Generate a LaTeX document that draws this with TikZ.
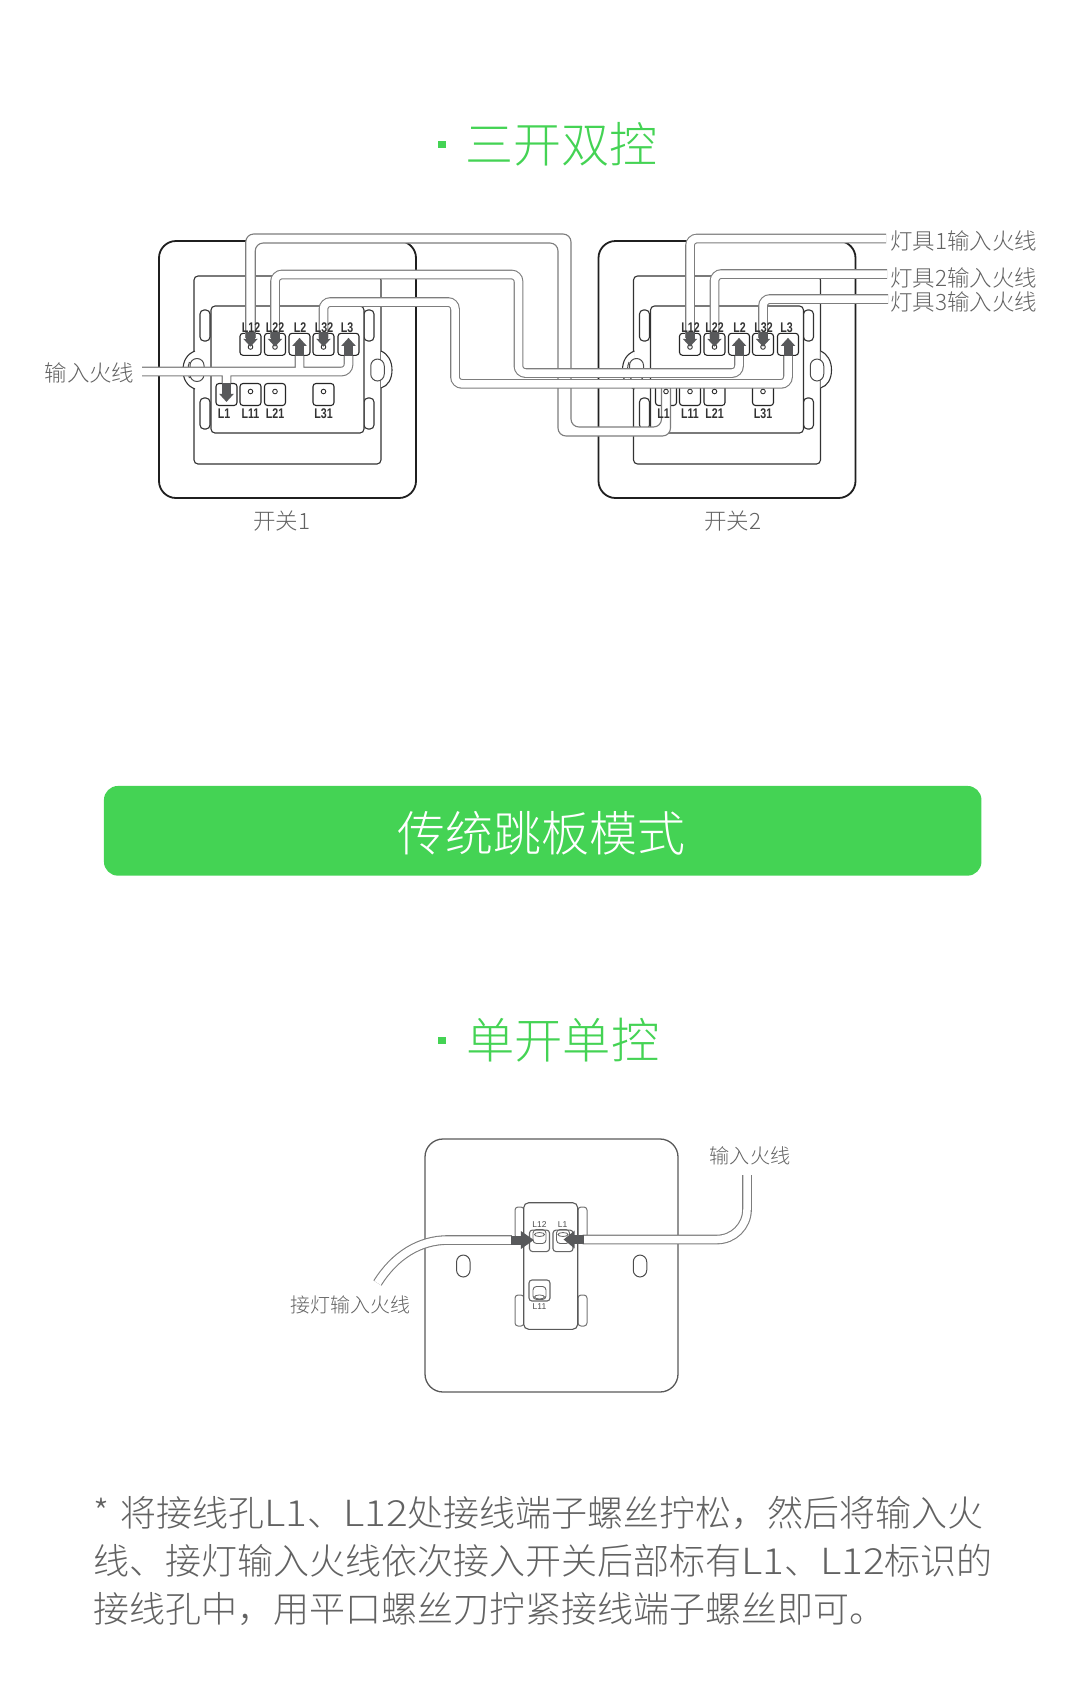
\documentclass[tikz,border=0pt]{standalone}
\usepackage{fontspec}
\setmainfont{Noto Sans CJK SC Light}
\newfontfamily\termfont{Liberation Sans}
\usetikzlibrary{arrows.meta}
\usetikzlibrary{positioning}
\definecolor{btngreen}{RGB}{68,211,84}
\definecolor{txtgray}{RGB}{98,98,98}
\definecolor{wiregray}{RGB}{125,125,125}
\definecolor{tipgray}{RGB}{88,89,91}
\newcommand{\pxfont}[1]{\fontsize{#1}{#1}\selectfont}
\newcommand{\termtxt}[1]{\scalebox{0.76}[1]{\termfont\bfseries\fontsize{14}{14}\selectfont #1}}
\newcommand{\latinpart}[1]{\scalebox{1.13}[1]{#1}}
\tikzset{
  plate/.style={draw=black!88, line width=1.8pt, fill=white, rounded corners=17pt},
  frameline/.style={draw=black!80, line width=1.1pt, fill=white, rounded corners=4pt},
  term/.style={draw=black!85, line width=1.1pt, fill=white, rounded corners=3pt, minimum width=21pt, minimum height=22pt, inner sep=0},
  hole/.style={circle, draw=black!80, line width=0.9pt, fill=white, minimum size=4.6pt, inner sep=0},
  slot/.style={draw=black!70, line width=1pt, fill=white, rounded corners=6.9pt, inner sep=0},
  wire/.style={draw=wiregray, line width=1.1pt, double=white, double distance=7.5pt, rounded corners=7pt},
  wireedge/.style={draw=wiregray, line width=1.1pt, rounded corners=8pt},
  pointer/.style={draw=tipgray, line width=9pt, -{Triangle[length=8pt,width=14pt]}},
  lbl/.style={font=\pxfont{22.5}, text=txtgray, inner sep=0},
  smallplate/.style={draw=black!65, line width=1.3pt, rounded corners=#1},
  smalllbl/.style={font=\termfont\pxfont{8.5}, text=black!70, inner sep=0},
  heading/.style={font=\pxfont{48}, text=btngreen, inner sep=0, anchor=west},
  headdot/.style={fill=btngreen, minimum size=7.6pt, inner sep=0},
}
\begin{document}
\begin{tikzpicture}[x=1pt,y=-1pt]
  \useasboundingbox (0,0) rectangle (1080,1701);

  % top heading
  \node [headdot] (dot1) at (442,144.5) {};
  \node [heading] (head1) at (465,144) {三开双控};

  % both switches
  \foreach \sw/\dx in {a/0,b/439.5} {
    \begin{scope}[xshift=\dx pt]
      \draw [plate] (159,241) rectangle (416,498);
      \draw [frameline] (194,276) rectangle (381,464);
      \draw [frameline, rounded corners=0pt] (195,351) .. controls (187,354) and (183,361) .. (183,370) .. controls (183,379) and (187,386) .. (195,389);
      \draw [frameline, rounded corners=0pt] (381,351) .. controls (388,354) and (392,361) .. (392,370) .. controls (392,379) and (388,386) .. (381,388);
      \node [slot, minimum width=14pt, minimum height=23pt] (\sw holeleft) at (197,370) {};
      \node [slot, minimum width=13.5pt, minimum height=22pt] (\sw holeright) at (377.5,370) {};
      \draw [draw=black!70, line width=1pt] (189.5,362) .. controls (187.5,366) and (187.5,374) .. (189.5,378);
      \foreach \tx in {200,364} {
        \foreach \ty in {310,398} {
          \draw [frameline] (\tx,\ty) rectangle ++(10,31);
        }
      }
      \draw [frameline] (211,306) rectangle (364,433);
      \foreach \name/\tx/\ty in {L12/250.5/344.3,L22/275/344.3,L2/299.5/344.3,L32/323.5/344.3,L3/348.5/344.3,L1/226.5/394.5,L11/250.5/394.5,L21/275/394.5,L31/323.5/394.5} {
        \node [term] (\sw\name) at (\tx,\ty) {};
      }
    \end{scope}
  }

  % wire from switch 1 to L1 of switch 2
  \fill [white, rounded corners=8pt] ([xshift=-4.75pt,yshift=-5pt]aL12.north) |- (571,234) -- (571,427) -| ([xshift=-4.5pt]bL1.north) -- ([xshift=4.5pt]bL1.north) |- (558,436) -- (558,243) -| ([xshift=4.75pt,yshift=-5pt]aL12.north) -- cycle;
  \draw [wireedge] ([xshift=-4.75pt,yshift=-5pt]aL12.north) |- (571,234) -- (571,427) -| ([xshift=-4.5pt]bL1.north);
  \draw [wireedge] ([xshift=4.75pt,yshift=-5pt]aL12.north) |- (558,243) -- (558,436) -| ([xshift=4.5pt]bL1.north);

  \draw [wire] ([yshift=-5pt]aL22.north) |- (518.5,274.5) |- ([yshift=-17.2pt]bL2.south) -- (bL2.south);
  \draw [wire] ([yshift=-5pt]aL32.north) |- (455,302) |- ([yshift=-28pt]bL3.south) -- (bL3.south);

  % lamp wires
  \coordinate (lamp1) at (886,238.5);
  \coordinate (lamp2) at (887,274);
  \coordinate (lamp3) at (888,299);
  \draw [wire] (lamp1) -| ([yshift=-5pt]bL12.north);
  \draw [wire] (lamp2) -| ([yshift=-5pt]bL22.north);
  \draw [wire] (lamp3) -| ([yshift=-5pt]bL32.north);

  % input wire of switch 1
  \coordinate (feed) at (142,371.5);
  \draw [wire] (feed) -| (aL3.south) (aL2.south |- feed) -- (aL2.south) (aL1.north |- feed) -- (aL1.north);

  \foreach \sw in {a,b} {
    \foreach \name/\hy in {L12/347,L22/347,L2/347,L32/347,L3/347,L1/391.5,L11/391.5,L21/391.5,L31/391.5} {
      \node [hole] (\sw\name hole) at (\sw\name.center |- 0,\hy) {};
    }
  }

  % arrows into the terminals
  \foreach \term in {aL12,aL22,aL32,bL12,bL22,bL32} {
    \draw [pointer] ([yshift=1pt]\term.north) -- ([yshift=-14pt]\term.north);
  }
  \foreach \term in {aL2,aL3,bL2,bL3} {
    \draw [pointer] (\term.south) -- ([yshift=18pt]\term.south);
  }
  \draw [pointer] (aL1.north) -- ([yshift=-19pt]aL1.north);

  % terminal names
  \foreach \sw/\dx in {a/0,b/439.5} {
    \begin{scope}[xshift=\dx pt]
      \foreach \name/\tx/\ty in {L12/251/328,L22/275/328,L2/300/328,L32/324/328,L3/347/328,L1/224/414,L11/250.5/414,L21/275/414,L31/323.5/414} {
        \node [inner sep=0, text=black!80] (\sw\name txt) at (\tx,\ty) {\termtxt{\name}};
      }
    \end{scope}
  }

  \node [lbl] (feedtxt) at (89.5,373) {输入火线};
  \node [lbl, anchor=west] (lamptxt1) at (890,241) {灯具1输入火线};
  \node [lbl, anchor=west] (lamptxt2) at (890,277.5) {灯具2输入火线};
  \node [lbl, anchor=west] (lamptxt3) at (890,302) {灯具3输入火线};
  \node [lbl] (swtxt1) at (282,521.5) {开关1};
  \node [lbl] (swtxt2) at (733,521.5) {开关2};

  % green banner
  \node [fill=btngreen, rounded corners=14pt, minimum width=877.5pt, minimum height=89.7pt, inner sep=0] (banner) at (542.7,830.8) {};
  \node [font=\pxfont{48}, text=white, inner sep=0] (bannertxt) at (541,833) {传统跳板模式};

  \node [headdot] (dot2) at (442,1040.5) {};
  \node [heading, font=\pxfont{48.3}] (head2) at (466,1040) {单开单控};

  % single switch
  \draw [smallplate=18pt] (425,1139) rectangle (678,1392);
  \node [slot, minimum width=13.5pt, minimum height=22pt] (sholeleft) at (463.3,1266) {};
  \node [slot, minimum width=13.5pt, minimum height=22pt] (sholeright) at (640,1266) {};
  \foreach \tx in {515,578} {
    \foreach \ty in {1207,1295} {
      \draw [draw=black!55, line width=1pt, rounded corners=3pt] (\tx,\ty) rectangle ++(9,31);
    }
  }
  \draw [draw=black!65, line width=1.1pt, fill=white, rounded corners=5pt] (523.7,1202.7) rectangle (577.7,1329.3);
  \node [term, draw=black!60, minimum width=20pt, minimum height=21.5pt] (sL12) at (539.5,1240.8) {};
  \node [term, draw=black!60, minimum width=20pt, minimum height=21.5pt] (sL1) at (563,1240.8) {};
  \node [term, draw=black!60, minimum width=21pt, minimum height=21pt] (sL11) at (539.5,1290.5) {};
  \foreach \term in {sL12,sL1} {
    \draw [draw=black!60, line width=0.9pt, rounded corners=3.5pt] ([xshift=-6.5pt]\term.north) rectangle ([xshift=6.5pt,yshift=-14pt]\term.north);
    \draw [draw=black!60, line width=0.8pt] ([yshift=-5pt]\term.north) ellipse (5pt and 2pt);
  }
  \draw [draw=black!60, line width=0.9pt, rounded corners=3.5pt] ([xshift=-6.5pt,yshift=-7pt]sL11.north) rectangle ([xshift=6.5pt,yshift=-20pt]sL11.north);
  \draw [draw=black!60, line width=0.8pt] ([yshift=-17.5pt]sL11.north) ellipse (5pt and 2pt);

  \coordinate (lampend) at (377.5,1283);
  \coordinate (feedend) at (747,1175);
  \draw [wire] (lampend) .. controls (395,1255) and (420,1240) .. (455,1240) -- ([xshift=-17pt]sL12.west |- 0,1240);
  \draw [wire, rounded corners=30pt] (feedend) |- ([xshift=9pt]sL1.east |- 0,1239.5);
  \draw [pointer, -{Triangle[length=13pt,width=17pt]}] ([xshift=-18pt]sL12.west |- 0,1240) -- ([xshift=5pt]sL12.west |- 0,1240);
  \draw [pointer, line width=8.5pt, -{Triangle[length=11pt,width=17pt]}] ([xshift=10pt]sL1.east |- 0,1239.5) -- ([xshift=-10pt]sL1.east |- 0,1239.5);

  \node [smalllbl] (sL12txt) at (539.5,1225) {L12};
  \node [smalllbl] (sL1txt) at (562.7,1225) {L1};
  \node [smalllbl] (sL11txt) at (539.5,1307) {L11};
  \node [lbl, font=\pxfont{20.2}] (sfeedtxt) at (750,1155.5) {输入火线};
  \node [lbl, font=\pxfont{20}] (slamptxt) at (350,1305) {接灯输入火线};

  % note below
  \node [font=\fontsize{36}{47.8}\selectfont, text=txtgray, inner sep=0, anchor=west, align=left] (note) at (93,1561.2) {*\hspace{3pt} 将接线孔\latinpart{L1}、\latinpart{L12}处接线端子螺丝拧松，然后将输入火\\线、接灯输入火线依次接入开关后部标有\latinpart{L1}、\latinpart{L12}标识的\\接线孔中，用平口螺丝刀拧紧接线端子螺丝即可。};
\end{tikzpicture}
\end{document}
